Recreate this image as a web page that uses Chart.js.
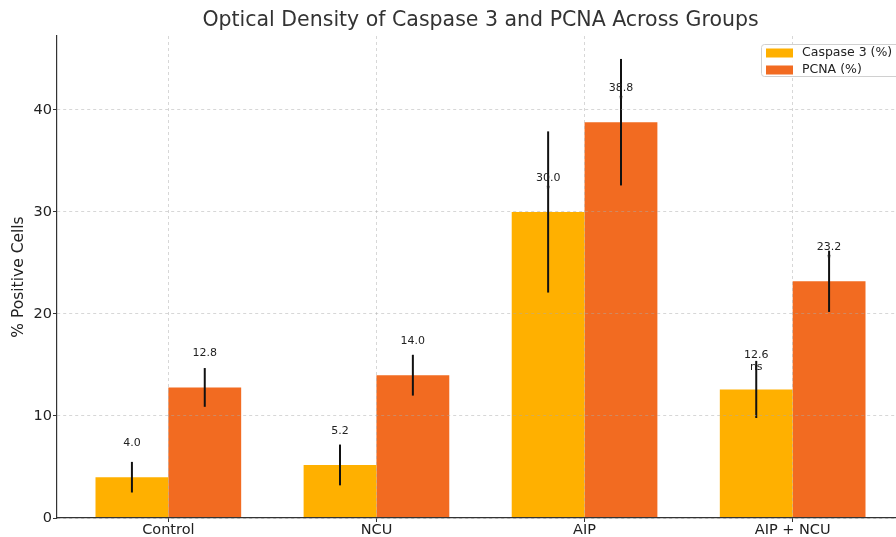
<!DOCTYPE html>
<html>
<head>
<meta charset="utf-8">
<script src="https://cdn.jsdelivr.net/npm/chart.js@4/dist/chart.umd.min.js"></script>
<style>
    html, body { margin: 0; padding: 0; background: #fff; overflow: hidden; }
    #wrap { width: 912px; height: 537px; position: relative; }
</style>
</head>
<body>
<div id="wrap"><canvas id="barChart"></canvas></div>
<script>
// chart data
const categories = ['Control', 'NCU', 'AIP', 'AIP + NCU'];
const caspase = [4.0, 5.2, 30.0, 12.6];
const pcna = [12.8, 14.0, 38.8, 23.2];
const caspaseErr = [1.5, 2.0, 7.9, 2.8];
const pcnaErr = [1.9, 2.0, 6.2, 3.0];
const caspaseSig = ['', '', '*', 'ns'];
const pcnaSig = ['', '', '*', '*'];
const yTicks = [0, 10, 20, 30, 40];

const titleText = 'Optical Density of Caspase 3 and PCNA Across Groups';
const font = "'DejaVu Sans', sans-serif";

document.addEventListener('DOMContentLoaded', function () {
    const errs = [caspaseErr, pcnaErr];
    const sigs = [caspaseSig, pcnaSig];
    const yTop = Math.max(...caspase.map((v, i) => v + caspaseErr[i]), ...pcna.map((v, i) => v + pcnaErr[i])) * 1.05;

    // error bars, value labels, significance marks, title and legend
    const extras = {
        id: 'extras',
        afterDatasetsDraw(chart) {
            const ctx = chart.ctx;
            const y = chart.scales.y;
            ctx.save();
            chart.data.datasets.forEach((ds, d) => {
                const meta = chart.getDatasetMeta(d);
                meta.data.forEach((bar, i) => {
                    const v = ds.data[i].y;
                    const e = errs[d][i];
                    ctx.strokeStyle = '#111';
                    ctx.lineWidth = 2;
                    ctx.beginPath();
                    ctx.moveTo(bar.x, y.getPixelForValue(v + e));
                    ctx.lineTo(bar.x, y.getPixelForValue(v - e));
                    ctx.stroke();

                    ctx.fillStyle = '#222';
                    ctx.textAlign = 'center';
                    ctx.textBaseline = 'middle';
                    ctx.font = '11px ' + font;
                    ctx.fillText(v.toFixed(1), bar.x, y.getPixelForValue(v + 3.35));
                    const s = sigs[d][i];
                    if (s === '*') {
                        ctx.font = '8px ' + font;
                        ctx.fillText(s, bar.x, y.getPixelForValue(v + 2.2));
                    } else if (s) {
                        ctx.font = '11px ' + font;
                        ctx.fillText(s, bar.x, y.getPixelForValue(v + 2.2));
                    }
                });
            });
            ctx.restore();
        },
        afterDraw(chart) {
            const ctx = chart.ctx;
            const area = chart.chartArea;
            ctx.save();
            ctx.fillStyle = '#333';
            ctx.font = '20.5px ' + font;
            ctx.textAlign = 'center';
            ctx.textBaseline = 'middle';
            ctx.fillText(titleText, (area.left + area.right) / 2, 21);

            // legend inside the plot, upper right
            const lx = 761, ly = 44, lw = 140, lh = 32;
            ctx.fillStyle = 'rgba(255,255,255,0.85)';
            ctx.strokeStyle = '#d0d0d0';
            ctx.lineWidth = 1;
            ctx.beginPath();
            ctx.roundRect(lx + 0.5, ly + 0.5, lw, lh, 3);
            ctx.fill();
            ctx.stroke();
            ctx.font = '12.5px ' + font;
            ctx.textAlign = 'left';
            chart.data.datasets.forEach((ds, d) => {
                const cy = ly + 9 + d * 17;
                ctx.fillStyle = ds.backgroundColor;
                ctx.fillRect(lx + 5, cy - 4.5, 27, 9);
                ctx.fillStyle = '#222';
                ctx.fillText(ds.label, lx + 41, cy);
            });
            ctx.restore();
        }
    };

    const gridOpts = {
        z: 1,
        offset: false,
        color: 'rgba(170,170,170,0.6)',
        lineWidth: 0.8,
        tickLength: 4,
        tickColor: '#333',
        tickBorderDash: [],
        tickWidth: 1
    };
    const borderOpts = { display: true, color: '#333', width: 1.2, z: 2, dash: [3, 3] };

    const ctx = document.getElementById('barChart').getContext('2d');
    const barChart = new Chart(ctx, {
        type: 'bar',
        data: {
            datasets: [{
                label: 'Caspase 3 (%)',
                data: caspase.map((v, i) => ({ x: i, y: v })),
                backgroundColor: '#FFB000',
                borderWidth: 0
            }, {
                label: 'PCNA (%)',
                data: pcna.map((v, i) => ({ x: i, y: v })),
                backgroundColor: '#F26B21',
                borderWidth: 0
            }]
        },
        options: {
            responsive: true,
            maintainAspectRatio: false,
            animation: false,
            categoryPercentage: 0.7,
            barPercentage: 1.0,
            layout: { padding: { top: 36, right: 8, left: 0, bottom: 0 } },
            plugins: {
                legend: { display: false },
                title: { display: false },
                tooltip: { enabled: false }
            },
            scales: {
                x: {
                    type: 'linear',
                    offset: false,
                    min: -0.535,
                    max: categories.length - 1 + 0.535,
                    afterBuildTicks: (scale) => { scale.ticks = categories.map((c, i) => ({ value: i })); },
                    afterFit: (scale) => { scale.height = 19; },
                    ticks: {
                        callback: (v) => categories[v],
                        autoSkip: false,
                        maxRotation: 0,
                        padding: 0,
                        color: '#222',
                        font: { family: font, size: 14.5 }
                    },
                    grid: gridOpts,
                    border: borderOpts
                },
                y: {
                    min: 0,
                    max: yTop,
                    afterBuildTicks: (scale) => { scale.ticks = yTicks.map(v => ({ value: v })); },
                    afterFit: (scale) => { scale.width = 57; },
                    ticks: {
                        padding: 1,
                        color: '#222',
                        font: { family: font, size: 14.5 }
                    },
                    title: {
                        display: true,
                        text: '% Positive Cells',
                        color: '#222',
                        padding: { top: 10, bottom: 0 },
                        font: { family: font, size: 15.5 }
                    },
                    grid: gridOpts,
                    border: borderOpts
                }
            }
        },
        plugins: [extras]
    });
});
</script>
</body>
</html>
